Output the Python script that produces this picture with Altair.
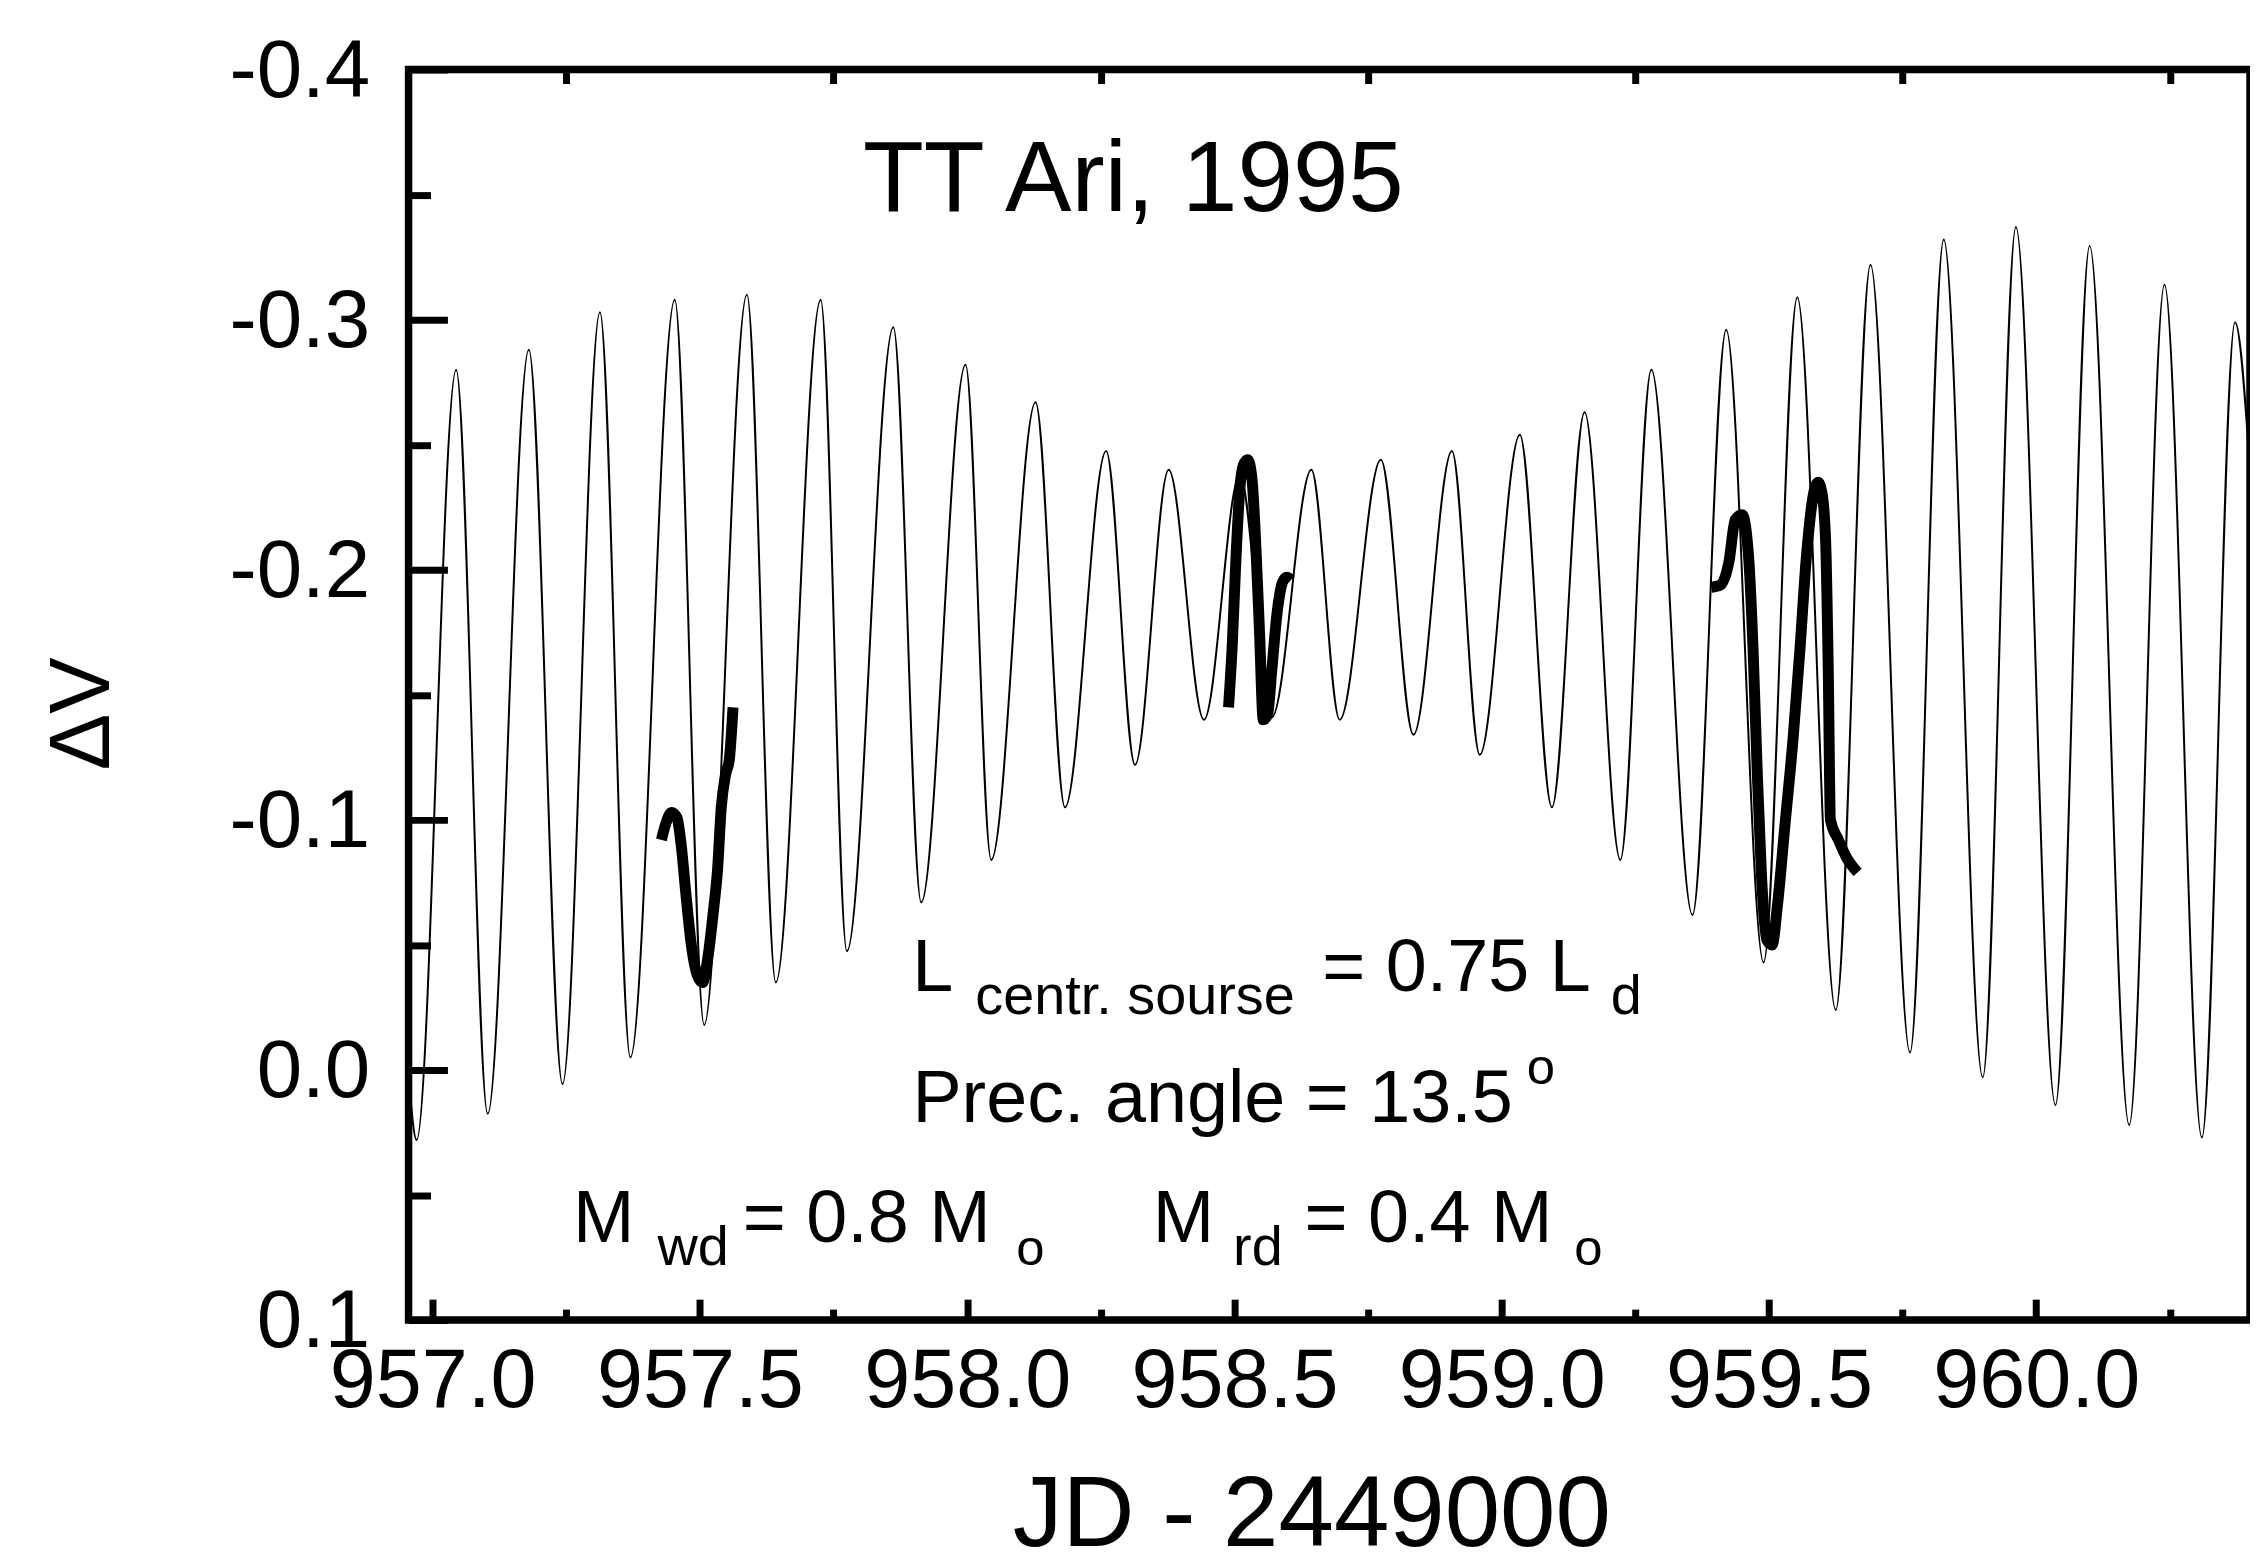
import altair as alt
import pandas as pd

# ---------------- data ----------------
# thin model light curve: alternating maxima / minima (JD - 2449000, Delta V)
thin_jd = [956.956, 956.970, 957.044, 957.103, 957.180, 957.243, 957.313, 957.370,
           957.453, 957.508, 957.588, 957.642, 957.726, 957.775, 957.862, 957.914,
           957.997, 958.045, 958.128, 958.183, 958.260, 958.314, 958.377, 958.443,
           958.510, 958.570, 958.644, 958.697, 958.774, 958.835, 958.907, 958.959,
           959.034, 959.094, 959.155, 959.222, 959.280, 959.357, 959.420, 959.490,
           959.553, 959.625, 959.690, 959.764, 959.827, 959.900, 959.962, 960.036,
           960.100, 960.174, 960.240, 960.310, 960.372, 960.400]
thin_dv = [0.005, 0.028, -0.280, 0.0175, -0.288, 0.0056, -0.303, -0.005,
           -0.308, -0.018, -0.310, -0.035, -0.308, -0.0475, -0.297, -0.067,
           -0.282, -0.084, -0.267, -0.105, -0.2475, -0.122, -0.240, -0.140,
           -0.238, -0.141, -0.240, -0.140, -0.244, -0.134, -0.2475, -0.126,
           -0.254, -0.105, -0.263, -0.084, -0.280, -0.062, -0.296, -0.043,
           -0.309, -0.024, -0.322, -0.007, -0.332, 0.003, -0.337, 0.014,
           -0.3295, 0.022, -0.314, 0.027, -0.299, -0.240]

# thick observed segments
obs_a_jd = [957.428, 957.437, 957.447, 957.457, 957.465, 957.474, 957.484, 957.495,
            957.505, 957.515, 957.525, 957.533, 957.540, 957.548, 957.555, 957.562]
obs_a_dv = [-0.092, -0.099, -0.103, -0.101, -0.090, -0.070, -0.050, -0.038,
            -0.035, -0.045, -0.063, -0.080, -0.105, -0.118, -0.124, -0.145]

obs_b_jd = [958.489, 958.496, 958.503, 958.510, 958.517, 958.525, 958.533, 958.540,
            958.547, 958.554, 958.562, 958.570, 958.580, 958.590, 958.598, 958.606]
obs_b_dv = [-0.145, -0.170, -0.205, -0.232, -0.242, -0.244, -0.236, -0.210,
            -0.175, -0.140, -0.142, -0.160, -0.183, -0.195, -0.197, -0.196]

obs_c_jd = [959.392, 959.410, 959.425, 959.437, 959.450, 959.462, 959.470, 959.478,
            959.486, 959.496, 959.506, 959.516, 959.530, 959.545, 959.558, 959.570,
            959.585, 959.592, 959.599, 959.606, 959.611, 959.615, 959.630, 959.645,
            959.666]
obs_c_dv = [-0.193, -0.194, -0.203, -0.220, -0.222, -0.205, -0.170, -0.120,
            -0.078, -0.052, -0.050, -0.066, -0.098, -0.132, -0.168, -0.205,
            -0.232, -0.235, -0.231, -0.212, -0.160, -0.100, -0.092, -0.085,
            -0.079]

# axis ticks
x_major = [957.0, 957.5, 958.0, 958.5, 959.0, 959.5, 960.0]
x_minor = [957.25, 957.75, 958.25, 958.75, 959.25, 959.75, 960.25]
y_major = [-0.4, -0.3, -0.2, -0.1, 0.0, 0.1]
y_minor = [-0.35, -0.25, -0.15, -0.05, 0.05]

# annotations (data coordinates)
title_text = ["TT Ari, 1995"]
title_x = [957.805]
title_y = [-0.3434]

main_text = ["L", "= 0.75 L", "Prec. angle = 13.5", "M", "= 0.8 M", "M", "= 0.4 M"]
main_x = [957.8974, 958.6643, 957.8976, 957.2626, 957.580, 958.347, 958.631]
main_y = [-0.0316, -0.0316, 0.0210, 0.0689, 0.0689, 0.0689, 0.0689]

sub_text = ["centr. sourse", "d", "wd", "rd"]
sub_x = [958.0152, 959.2039, 957.4205, 958.4975]
sub_y = [-0.0224, -0.0224, 0.0780, 0.0780]

small_text = ["o", "o", "o"]
small_x = [959.047, 958.092, 959.136]
small_y = [0.0056, 0.0781, 0.0781]

X_DOMAIN = [956.955, 960.40]
Y_DOMAIN = [-0.4, 0.1]

FONT = "Liberation Sans"

# ---------------- chart ----------------
df_thin = pd.DataFrame({"jd": thin_jd, "dv": thin_dv})
df_obs = pd.concat([
    pd.DataFrame({"jd": obs_a_jd, "dv": obs_a_dv, "seg": "a"}),
    pd.DataFrame({"jd": obs_b_jd, "dv": obs_b_dv, "seg": "b"}),
    pd.DataFrame({"jd": obs_c_jd, "dv": obs_c_dv, "seg": "c"}),
], ignore_index=True)
df_title = pd.DataFrame({"x": title_x, "y": title_y, "t": title_text})
df_main = pd.DataFrame({"x": main_x, "y": main_y, "t": main_text})
df_sub = pd.DataFrame({"x": sub_x, "y": sub_y, "t": sub_text})
df_small = pd.DataFrame({"x": small_x, "y": small_y, "t": small_text})

xs = alt.Scale(domain=X_DOMAIN, nice=False, zero=False)
ys = alt.Scale(domain=Y_DOMAIN, reverse=True, nice=False, zero=False)

common = dict(domain=False, grid=False, tickColor="black", tickWidth=7,
              labelFlush=False, labelOverlap=False, labelLimit=0)

thin = alt.Chart(df_thin).mark_line(
    color="black", strokeWidth=2, interpolate="monotone", clip=True
).encode(
    x=alt.X("jd:Q", scale=xs, axis=alt.Axis(
        orient="bottom", values=x_major, format=".1f",
        tickSize=21, offset=-21, labelPadding=21,
        labelFontSize=83, labelFont=FONT, labelColor="black",
        title="JD - 2449000", titleFontSize=100, titleFont=FONT,
        titleFontWeight="normal", titleColor="black",
        titleX=906, titleY=247, titleAlign="center", titleBaseline="alphabetic",
        titleLimit=0,
        **common)),
    y=alt.Y("dv:Q", scale=ys, axis=alt.Axis(
        orient="left", values=y_major,
        labelExpr="datum.value < 0 ? '-' + format(-datum.value, '.1f') : format(datum.value, '.1f')",
        tickSize=39, offset=-39, labelPadding=39, labelOffset=2,
        labelFontSize=82, labelFont=FONT, labelColor="black",
        title="ΔV", titleFontSize=85, titleFont=FONT, titleFontWeight="normal",
        titleColor="black", titleAngle=270, titleX=-340, titleY=646,
        titleAlign="center", titleBaseline="alphabetic",
        **common)),
)

obs = alt.Chart(df_obs).mark_line(
    color="black", strokeWidth=11, interpolate="monotone", strokeJoin="round", clip=True
).encode(
    x=alt.X("jd:Q", scale=xs, axis=alt.Axis(
        orient="bottom", values=x_minor, tickSize=11, offset=-11,
        labels=False, title=None, **common)),
    y=alt.Y("dv:Q", scale=ys, axis=alt.Axis(
        orient="left", values=y_minor, tickSize=22, offset=-22,
        labels=False, title=None, **common)),
    detail="seg:N",
)

title_layer = alt.Chart(df_title).mark_text(
    align="left", baseline="alphabetic", fontSize=100, font=FONT, color="black"
).encode(
    x=alt.X("x:Q", scale=xs, axis=alt.Axis(
        orient="top", values=x_minor, tickSize=14, offset=-14,
        labels=False, title=None, **common)),
    y=alt.Y("y:Q", scale=ys, axis=None),
    text="t:N",
)

main_layer = alt.Chart(df_main).mark_text(
    align="left", baseline="alphabetic", fontSize=74, font=FONT, color="black"
).encode(
    x=alt.X("x:Q", scale=xs, axis=None),
    y=alt.Y("y:Q", scale=ys, axis=None),
    text="t:N",
)

sub_layer = alt.Chart(df_sub).mark_text(
    align="left", baseline="alphabetic", fontSize=56, font=FONT, color="black"
).encode(
    x=alt.X("x:Q", scale=xs, axis=None),
    y=alt.Y("y:Q", scale=ys, axis=None),
    text="t:N",
)

small_layer = alt.Chart(df_small).mark_text(
    align="left", baseline="alphabetic", fontSize=51, font=FONT, color="black"
).encode(
    x=alt.X("x:Q", scale=xs, axis=None),
    y=alt.Y("y:Q", scale=ys, axis=None),
    text="t:N",
)

chart = alt.layer(
    thin, obs, title_layer, main_layer, sub_layer, small_layer
).resolve_axis(
    x="independent", y="independent"
).properties(
    width=1848, height=1255,
    autosize="none",
    padding={"left": 402, "top": 59, "right": 0, "bottom": 236},
    background="white",
).configure_view(
    stroke="black", strokeWidth=7.5
)

chart.save("out.html", embed_options={"renderer": "svg", "actions": False})
